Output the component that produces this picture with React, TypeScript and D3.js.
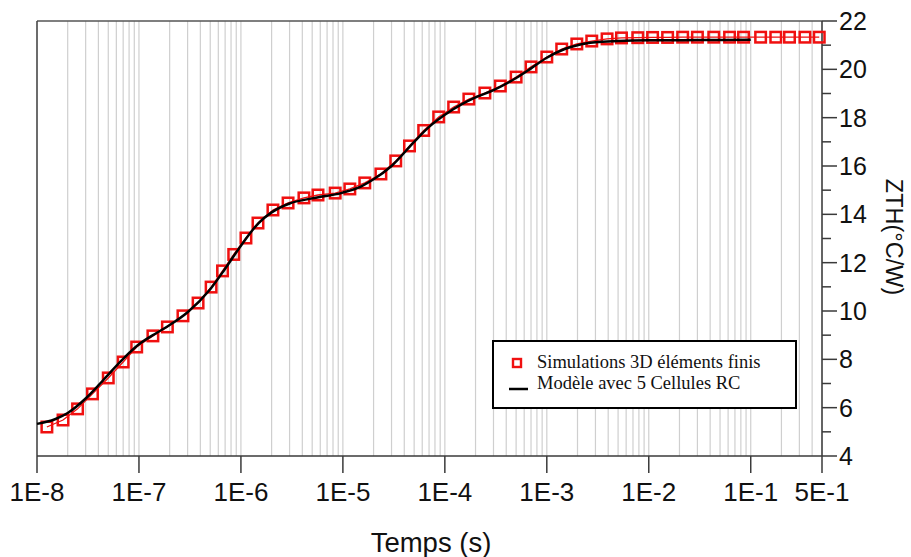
import React from "react";
import * as d3 from "d3";

const W = 911;
const H = 557;

// Simulations 3D éléments finis (time in s, ZTH in °C/W)
const simTimes = [
  1.25e-8, 1.8e-8, 2.5e-8, 3.5e-8, 5.0e-8, 7.0e-8, 9.5e-8, 1.37e-7, 1.9e-7, 2.7e-7,
  3.8e-7, 5.1e-7, 6.6e-7, 8.5e-7, 1.12e-6, 1.47e-6, 2.06e-6, 2.9e-6, 4.15e-6, 5.7e-6,
  8.4e-6, 1.17e-5, 1.64e-5, 2.36e-5, 3.3e-5, 4.5e-5, 6.2e-5, 8.7e-5, 1.22e-4, 1.72e-4,
  2.47e-4, 3.5e-4, 5.0e-4, 7.0e-4, 1.0e-3, 1.4e-3, 1.97e-3, 2.76e-3, 3.9e-3, 5.4e-3,
  7.8e-3, 1.09e-2, 1.53e-2, 2.15e-2, 3.0e-2, 4.34e-2, 6.2e-2, 8.5e-2, 0.125, 0.176,
  0.24, 0.34, 0.47,
];
const simValues = [
  5.2, 5.49, 5.95, 6.57, 7.23, 7.89, 8.51, 8.97, 9.34, 9.8,
  10.33, 10.99, 11.66, 12.34, 13.02, 13.64, 14.18, 14.47, 14.68, 14.8,
  14.88, 15.05, 15.3, 15.67, 16.21, 16.83, 17.47, 18.03, 18.44, 18.77,
  19.02, 19.31, 19.68, 20.1, 20.51, 20.84, 21.05, 21.17, 21.26, 21.3,
  21.31, 21.32, 21.32, 21.33, 21.33, 21.33, 21.33, 21.33, 21.33, 21.33,
  21.33, 21.33, 21.33,
];

// Modèle avec 5 Cellules RC
const modelTimes = [
  1e-8, 1.5e-8, 2e-8, 3e-8, 4e-8, 5e-8, 7e-8, 1e-7, 1.5e-7, 2e-7,
  3e-7, 5e-7, 7e-7, 1e-6, 1.5e-6, 2e-6, 3e-6, 5e-6, 1e-5, 1.5e-5,
  2e-5, 3e-5, 5e-5, 7e-5, 1e-4, 1.5e-4, 2e-4, 3e-4, 5e-4, 7e-4,
  1e-3, 1.5e-3, 2e-3, 3e-3, 5e-3, 1e-2, 3e-2, 1e-1,
];
const modelValues = [
  5.33, 5.52, 5.78, 6.38, 6.92, 7.37, 8.02, 8.62, 9.1, 9.42,
  9.95, 10.9, 11.75, 12.7, 13.65, 14.08, 14.45, 14.66, 14.9, 15.15,
  15.45, 16.0, 17.0, 17.62, 18.12, 18.58, 18.84, 19.14, 19.64, 20.04,
  20.48, 20.84, 21.0, 21.12, 21.17, 21.2, 21.21, 21.22,
];

const xTickValues = [1e-8, 1e-7, 1e-6, 1e-5, 1e-4, 1e-3, 1e-2, 1e-1, 5e-1];
const xTickLabels = ["1E-8", "1E-7", "1E-6", "1E-5", "1E-4", "1E-3", "1E-2", "1E-1", "5E-1"];
const yMajorTicks = [4, 6, 8, 10, 12, 14, 16, 18, 20, 22];
const yMinorTicks = [5, 7, 9, 11, 13, 15, 17, 19, 21];

const legendLabels = ["Simulations 3D éléments finis", "Modèle avec 5 Cellules RC"];

const PL = 37, PR = 822, PT = 21, PB = 456;
const RED = "#f01010";
const AXIS = "#3a3a3a";
const SANS = "'Liberation Sans', Arial, sans-serif";
const SERIF = "'Liberation Serif', 'Times New Roman', serif";

export default function App() {
  const x = d3.scaleLog().domain([1e-8, 0.5]).range([PL, PR]);
  const y = d3.scaleLinear().domain([4, 22]).range([PB, PT]);

  const gridTicks = x.ticks();

  const simPts: [number, number][] = simTimes.map((t, i) => [x(t), y(simValues[i])]);
  const modelPts: [number, number][] = modelTimes.map((t, i) => [x(t), y(modelValues[i])]);

  const simLine = d3.line().curve(d3.curveLinear)(simPts) || "";
  const modelLine = d3.line().curve(d3.curveMonotoneX)(modelPts) || "";

  const sq = 10.5;

  return (
    <svg
      width={W}
      height={H}
      style={{ position: "absolute", left: 0, top: 0, background: "#fff" }}
    >
      <rect x={0} y={0} width={W} height={H} fill="#fff" />
      {/* vertical grid */}
      {gridTicks.map((t, i) => (
        <line
          key={"g" + i}
          x1={x(t)}
          x2={x(t)}
          y1={PT}
          y2={PB}
          stroke="#cfcfcf"
          strokeWidth={1.2}
        />
      ))}
      {/* frame */}
      <line x1={PL} x2={PR} y1={PT} y2={PT} stroke="#555" strokeWidth={1.5} />
      <line x1={PL} x2={PL} y1={PT} y2={PB} stroke="#444" strokeWidth={1.5} />
      <line x1={PL} x2={PR} y1={PB} y2={PB} stroke={AXIS} strokeWidth={1.5} />
      <line x1={PR} x2={PR} y1={PT} y2={PB} stroke={AXIS} strokeWidth={1.5} />

      {/* x ticks */}
      {xTickValues.map((t, i) => (
        <g key={"xt" + i}>
          <line x1={x(t)} x2={x(t)} y1={PB} y2={PB + 17} stroke={AXIS} strokeWidth={1.5} />
          <text
            x={x(t)}
            y={PB + 45}
            textAnchor="middle"
            fontFamily={SANS}
            fontSize={26}
            fill="#111"
          >
            {xTickLabels[i]}
          </text>
        </g>
      ))}
      {/* y ticks */}
      {yMajorTicks.map((v) => (
        <g key={"yt" + v}>
          <line x1={PR} x2={PR + 15} y1={y(v)} y2={y(v)} stroke={AXIS} strokeWidth={1.5} />
          <text
            x={PR + 17}
            y={y(v) + 9}
            textAnchor="start"
            fontFamily={SANS}
            fontSize={25}
            fill="#111"
          >
            {v}
          </text>
        </g>
      ))}
      {yMinorTicks.map((v) => (
        <line key={"ym" + v} x1={PR} x2={PR + 9} y1={y(v)} y2={y(v)} stroke={AXIS} strokeWidth={1.5} />
      ))}

      {/* axis titles */}
      <text
        x={431}
        y={552}
        textAnchor="middle"
        fontFamily={SANS}
        fontSize={27.5}
        fill="#111"
      >
        Temps (s)
      </text>
      <text
        transform={`translate(886, 237) rotate(90)`}
        textAnchor="middle"
        fontFamily={SANS}
        fontSize={23.5}
        fill="#111"
      >
        ZTH(°C/W)
      </text>

      {/* simulation series */}
      <path d={simLine} fill="none" stroke={RED} strokeWidth={1.3} />
      {simPts.map(([px, py], i) => (
        <rect
          key={"s" + i}
          x={px - sq / 2}
          y={py - sq / 2}
          width={sq}
          height={sq}
          fill="none"
          stroke={RED}
          strokeWidth={2.5}
        />
      ))}

      {/* model series */}
      <path d={modelLine} fill="none" stroke="#000" strokeWidth={2.5} />

      {/* legend */}
      <rect x={493} y={341} width={303} height={67} fill="#fff" stroke="#000" strokeWidth={2} />
      <rect x={513} y={359} width={8} height={8} fill="none" stroke={RED} strokeWidth={2.4} />
      <text x={537} y={368} fontFamily={SERIF} fontSize={18.5} fill="#111">
        {legendLabels[0]}
      </text>
      <line x1={509} x2={528} y1={389} y2={389} stroke="#000" strokeWidth={2.5} />
      <text x={537} y={389} fontFamily={SERIF} fontSize={18.5} fill="#111">
        {legendLabels[1]}
      </text>
    </svg>
  );
}
